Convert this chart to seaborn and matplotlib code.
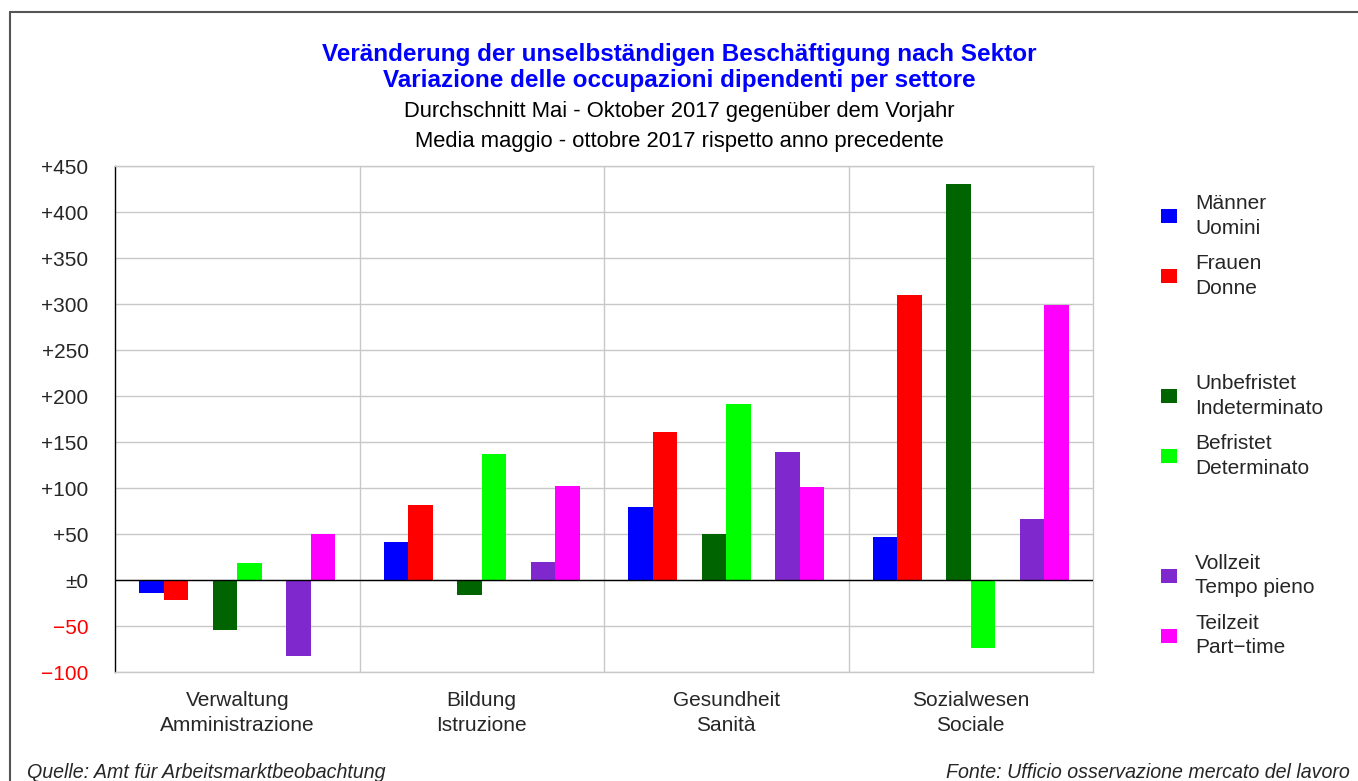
import matplotlib
matplotlib.use("Agg")
import matplotlib.pyplot as plt
from matplotlib.patches import Patch
from matplotlib.lines import Line2D
import seaborn as sns
import pandas as pd

# ---- data ----
sectors = ["Verwaltung\nAmministrazione", "Bildung\nIstruzione", "Gesundheit\nSanità", "Sozialwesen\nSociale"]
maenner = [-14, 41, 79, 47]
frauen = [-22, 82, 161, 310]
unbefristet = [-54, -16, 50, 430]
befristet = [19, 137, 191, -74]
vollzeit = [-83, 20, 139, 66]
teilzeit = [50, 102, 101, 299]

series_names = ["Männer\nUomini", "Frauen\nDonne", "Unbefristet\nIndeterminato",
                "Befristet\nDeterminato", "Vollzeit\nTempo pieno", "Teilzeit\nPart\u2212time"]
series_values = [maenner, frauen, unbefristet, befristet, vollzeit, teilzeit]
series_colors = ["#0000FF", "#FF0000", "#006400", "#00FF00", "#7F28CD", "#FF00FF"]

yticks = [-100, -50, 0, 50, 100, 150, 200, 250, 300, 350, 400, 450]

title_lines = ["Veränderung der unselbständigen Beschäftigung nach Sektor",
               "Variazione delle occupazioni dipendenti per settore"]
subtitle_lines = ["Durchschnitt Mai - Oktober 2017 gegenüber dem Vorjahr",
                  "Media maggio - ottobre 2017 rispetto anno precedente"]
source_left = "Quelle: Amt für Arbeitsmarktbeobachtung"
source_right = "Fonte: Ufficio osservazione mercato del lavoro"

# ---- build long table ----
rows = []
for name, vals in zip(series_names, series_values):
    for s, v in zip(sectors, vals):
        rows.append({"sector": s, "series": name, "value": v})
df = pd.DataFrame(rows)

# hue order with empty spacer levels between the pairs
gap1, gap2 = " ", "  "
hue_order = series_names[:2] + [gap1] + series_names[2:4] + [gap2] + series_names[4:]
palette = series_colors[:2] + ["#FFFFFF"] + series_colors[2:4] + ["#FFFFFF"] + series_colors[4:]

sns.set_style("white")
plt.rcParams["font.family"] = ["Liberation Sans", "DejaVu Sans"]

W, H = 1358, 781
fig = plt.figure(figsize=(W / 100, H / 100), dpi=100)
ax = fig.add_axes([115 / W, 1 - 672 / H, (1093 - 115) / W, (672 - 166) / H])

sns.barplot(data=df, x="sector", y="value", hue="series", order=sectors,
            hue_order=hue_order, palette=palette, width=0.8, gap=0,
            linewidth=0, saturation=1, legend=False, ax=ax, zorder=3)

ax.set_xlim(-0.5, len(sectors) - 0.5)
ax.set_ylim(min(yticks), max(yticks))
ax.set_yticks(yticks)
ylabels = []
for t in yticks:
    if t > 0:
        ylabels.append(f"+{t}")
    elif t == 0:
        ylabels.append("±0")
    else:
        ylabels.append(f"\u2212{abs(t)}")
ax.set_yticklabels(ylabels, fontsize=15)
for lab, t in zip(ax.get_yticklabels(), yticks):
    if t < 0:
        lab.set_color("#FF0000")
ax.tick_params(axis="y", length=0, pad=19)
ax.tick_params(axis="x", length=0, pad=14, labelsize=15)
for lab in ax.get_xticklabels():
    lab.set_linespacing(1.38)
ax.set_xlabel("")
ax.set_ylabel("")

ax.yaxis.grid(True, color="#C8C8C8", linewidth=1, zorder=0)
ax.set_axisbelow(True)
for i in range(1, len(sectors)):
    ax.axvline(i - 0.5, color="#C8C8C8", linewidth=1, zorder=0)
ax.axhline(0, color="black", linewidth=1, zorder=4)
for side in ["top", "right", "bottom"]:
    ax.spines[side].set_color("#C8C8C8")
    ax.spines[side].set_linewidth(1)
ax.spines["left"].set_color("black")
ax.spines["left"].set_linewidth(1)

# legend with blank spacer entries
handles, labels = [], []
for lvl, col in zip(hue_order, palette):
    if lvl.strip() == "":
        handles.append(Patch(facecolor="none", edgecolor="none"))
        labels.append(" \n ")
    else:
        handles.append(Patch(facecolor=col, edgecolor="none"))
        labels.append(lvl)
leg = fig.legend(handles, labels, loc="upper left", bbox_to_anchor=(1161 / W, 1 - 194 / H),
                 frameon=False, fontsize=15, handlelength=0.75, handleheight=0.65,
                 handletextpad=0.9, labelspacing=0.78, borderaxespad=0, borderpad=0)
for t in leg.get_texts():
    t.set_linespacing(1.38)

# titles
fig.text(0.5, 1 - 54 / H, title_lines[0], ha="center", va="center", color="#0000FF",
         fontsize=17.5, fontweight="bold")
fig.text(0.5, 1 - 81 / H, title_lines[1], ha="center", va="center", color="#0000FF",
         fontsize=17.5, fontweight="bold")
fig.text(0.5, 1 - 111 / H, subtitle_lines[0], ha="center", va="center", color="black", fontsize=15.8)
fig.text(0.5, 1 - 141 / H, subtitle_lines[1], ha="center", va="center", color="black", fontsize=15.8)

# footer
fig.text(27 / W, 1 - 772 / H, source_left, ha="left", va="center", fontsize=14.1, style="italic")
fig.text(1350 / W, 1 - 772 / H, source_right, ha="right", va="center", fontsize=14.1, style="italic")

# outer frame
fig.add_artist(Line2D([10 / W, 10 / W], [0, 1 - 12 / H], transform=fig.transFigure,
                      color="#555555", linewidth=1.5))
fig.add_artist(Line2D([10 / W, 1], [1 - 12 / H, 1 - 12 / H], transform=fig.transFigure,
                      color="#555555", linewidth=1.5))

fig.savefig("out.png", dpi=100)
